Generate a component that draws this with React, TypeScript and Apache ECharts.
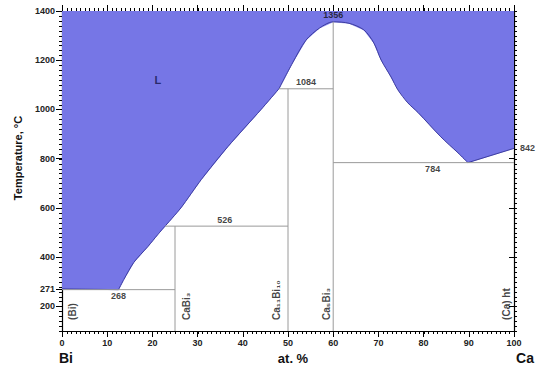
import React, { useEffect, useRef } from 'react';
import * as echarts from 'echarts';

// Axis ticks
const compositionTicks = [0, 10, 20, 30, 40, 50, 60, 70, 80, 90, 100];
const temperatureTicks = [200, 271, 400, 600, 800, 1000, 1200, 1400];
const compositionMinorStep = 1;
const temperatureMinorStep = 20;

// Liquidus branches, [at.% Ca, °C]
const liquidusBi = [[0, 271], [12.5, 268]];
const liquidusCaBi3 = [[12.5, 268], [13.7, 310], [15.9, 379], [19, 443], [21.2, 492], [22.8, 526]];
const liquidusCa11Bi10 = [[22.8, 526], [26.3, 600], [30.8, 715], [36.7, 849], [44, 999], [48, 1084]];
const liquidusCa5Bi3 = [
  [48, 1084], [51, 1189], [54, 1282], [57, 1331], [60, 1356], [63.5, 1350], [66.8, 1323],
  [69, 1270], [70.6, 1201], [72.8, 1132], [74.3, 1080], [76.5, 1027], [78.8, 987],
  [83.8, 889], [87.6, 824], [89.8, 784],
];
const liquidusCa = [[89.8, 784], [100, 842]];

// Invariant isotherms: [°C, from at.%, to at.%]
const isotherms = [[268, 0, 25], [526, 22.8, 50], [1084, 48, 60], [784, 60, 100]];
// Compound lines: [at.% Ca, top °C]
const compoundLines = [[25, 526], [50, 1084], [60, 1356]];

// Temperature annotations: [at.% Ca, °C]
const tempNotes = [[12.5, 268], [36, 526], [54, 1084], [60, 1356], [82, 784], [100, 842]];
// Phase names and their compositions
const phaseNames = ['(Bi)', 'CaBi₃', 'Ca₁₁Bi₁₀', 'Ca₅Bi₃', '(Ca) ht'];
const phaseComps = [0, 25, 50, 60, 100];
// Liquid field label
const liquidLabel = { name: 'L', x: 21.2, t: 1120 };

const T_MIN = 100;
const T_MAX = 1400;
const X_MIN = compositionTicks[0];
const X_MAX = compositionTicks[compositionTicks.length - 1];

const FILL = '#7676e6';
const EDGE = '#3c3ca0';
const THIN = '#9a9a9a';
const FONT = 'Liberation Sans, Arial, sans-serif';

function steps(from: number, to: number, step: number) {
  const out: number[] = [];
  for (let v = from; v <= to + 1e-9; v += step) out.push(v);
  return out;
}

export default function App() {
  const ref = useRef<HTMLDivElement>(null);

  useEffect(() => {
    if (!ref.current) return;
    const chart = echarts.init(ref.current, null, { renderer: 'svg' });

    const branches = [liquidusBi, liquidusCaBi3, liquidusCa11Bi10, liquidusCa5Bi3, liquidusCa];
    const branchSmooth = [false, 0.25, 0.25, 0.3, false];

    // one continuous polygon for the liquid field (no seams), edges drawn per branch on top
    const liquidField = branches.reduce<number[][]>((acc, b) => acc.concat(acc.length ? b.slice(1) : b), []);

    const thinLine = (data: number[][]) => ({
      type: 'line',
      data,
      symbol: 'none',
      lineStyle: { color: THIN, width: 1 },
      z: 3,
      silent: true,
    });

    const noteSides = ['bottom', 'top', 'top', 'top', 'bottom', 'right'];
    const phaseOffsets = [10, 11, -12, -7, -8];
    const MINOR = 3;

    const tickLine = (x1: number, y1: number, x2: number, y2: number) => ({
      type: 'line',
      shape: { x1, y1, x2, y2 },
      style: { stroke: '#000', lineWidth: 1 },
    });

    // fine tick combs along the frame, positioned through the axis scales
    const minorXSeries = {
      type: 'custom',
      clip: false,
      silent: true,
      z: 10,
      data: steps(X_MIN, X_MAX, compositionMinorStep).map((v) => [v, T_MIN]),
      renderItem: (_p: any, api: any) => {
        const v = api.value(0);
        const b = api.coord([v, T_MIN]);
        const t = api.coord([v, T_MAX]);
        const x = Math.round(b[0]) + 0.5;
        return {
          type: 'group',
          children: [tickLine(x, b[1], x, b[1] + MINOR), tickLine(x, t[1], x, t[1] - MINOR)],
        };
      },
    };
    const minorYSeries = {
      type: 'custom',
      clip: false,
      silent: true,
      z: 10,
      data: steps(T_MIN, T_MAX, temperatureMinorStep).map((v) => [X_MIN, v]),
      renderItem: (_p: any, api: any) => {
        const v = api.value(1);
        const l = api.coord([X_MIN, v]);
        const r = api.coord([X_MAX, v]);
        const y = Math.round(l[1]) + 0.5;
        return {
          type: 'group',
          children: [tickLine(l[0], y, l[0] - MINOR, y), tickLine(r[0], y, r[0] + MINOR, y)],
        };
      },
    };

    const series: any[] = [
      {
        type: 'line',
        data: liquidField,
        smooth: false,
        symbol: 'none',
        lineStyle: { width: 0.6, color: FILL },
        areaStyle: { color: FILL, opacity: 1, origin: 'end' },
        z: 1,
        silent: true,
      },
      ...branches.map((b, i) => ({
        type: 'line',
        data: b,
        smooth: branchSmooth[i],
        symbol: 'none',
        lineStyle: { color: EDGE, width: 1 },
        z: 2,
        silent: true,
      })),
      ...isotherms.map(([t, a, b]) => thinLine([[a, t], [b, t]])),
      ...compoundLines.map(([x, t]) => thinLine([[x, T_MIN], [x, t]])),
      ...tempNotes.map(([x, t], i) => ({
        type: 'scatter',
        data: [[x, t]],
        symbolSize: 0,
        z: 5,
        silent: true,
        label: {
          show: true,
          position: noteSides[i],
          distance: noteSides[i] === 'right' ? 6 : 2,
          formatter: String(t),
          fontFamily: FONT,
          fontSize: 9,
          fontWeight: 'bold',
          color: '#111',
        },
      })),
      ...phaseNames.map((name, i) => ({
        type: 'scatter',
        data: [[phaseComps[i], 145]],
        symbolSize: 0,
        z: 5,
        silent: true,
        label: {
          show: true,
          position: [phaseOffsets[i], 0],
          rotate: 90,
          align: 'left',
          verticalAlign: 'middle',
          formatter: name,
          fontFamily: FONT,
          fontSize: 10,
          fontWeight: 'bold',
          color: '#111',
        },
      })),
      {
        type: 'scatter',
        data: [[liquidLabel.x, liquidLabel.t]],
        symbolSize: 0,
        z: 5,
        silent: true,
        label: {
          show: true,
          position: 'inside',
          formatter: liquidLabel.name,
          fontFamily: FONT,
          fontSize: 11,
          fontWeight: 'bold',
          color: '#15154a',
        },
      },
      minorXSeries,
      minorYSeries,
    ];

    const axisLineStyle = { color: '#000', width: 1.2 };
    const tickStyle = { color: '#000', width: 1 };

    chart.setOption({
      animation: false,
      grid: { left: 62, right: 22, top: 11, bottom: 41 },
      xAxis: [
        {
          type: 'value',
          min: X_MIN,
          max: X_MAX,
          interval: 10,
          axisLine: { onZero: false, lineStyle: axisLineStyle },
          axisTick: { show: true, length: 6, lineStyle: tickStyle },
          splitLine: { show: false },
          axisLabel: {
            fontFamily: FONT,
            fontSize: 9,
            fontWeight: 'bold',
            color: '#222',
            margin: 7,
          },
        },
        {
          type: 'value',
          position: 'top',
          min: X_MIN,
          max: X_MAX,
          interval: 10,
          axisLine: { show: true, onZero: false, lineStyle: axisLineStyle },
          axisTick: { show: true, length: 6, lineStyle: tickStyle },
          splitLine: { show: false },
          axisLabel: { show: false },
        },
      ],
      yAxis: [
        {
          type: 'value',
          min: T_MIN,
          max: T_MAX,
          interval: 100,
          axisLine: { show: true, onZero: false, lineStyle: axisLineStyle },
          axisTick: { show: true, length: 6, customValues: temperatureTicks, lineStyle: tickStyle },
          splitLine: { show: false },
          axisLabel: {
            customValues: temperatureTicks,
            formatter: (v: number) => String(v),
            fontFamily: FONT,
            fontSize: 9,
            fontWeight: 'bold',
            color: '#222',
            margin: 7,
          },
        },
        {
          type: 'value',
          position: 'right',
          min: T_MIN,
          max: T_MAX,
          interval: 100,
          axisLine: { show: true, onZero: false, lineStyle: axisLineStyle },
          axisTick: {
            show: true,
            inside: true,
            length: 5,
            customValues: temperatureTicks.filter((v) => v % 200 === 0),
            lineStyle: tickStyle,
          },
          splitLine: { show: false },
          axisLabel: { show: false },
        },
      ],
      graphic: [
        {
          type: 'text',
          x: 18,
          y: 158,
          rotation: Math.PI / 2,
          style: {
            text: 'Temperature, °C',
            font: `bold 11px ${FONT}`,
            fill: '#111',
            align: 'center',
            verticalAlign: 'middle',
            textAlign: 'center',
            textVerticalAlign: 'middle',
          },
        },
        {
          type: 'text',
          x: 293,
          y: 358,
          style: {
            text: 'at. %',
            font: `bold 13px ${FONT}`,
            fill: '#111',
            align: 'center',
            verticalAlign: 'middle',
            textAlign: 'center',
            textVerticalAlign: 'middle',
          },
        },
        {
          type: 'text',
          x: 66,
          y: 358,
          style: {
            text: 'Bi',
            font: `bold 14px ${FONT}`,
            fill: '#111',
            align: 'center',
            verticalAlign: 'middle',
            textAlign: 'center',
            textVerticalAlign: 'middle',
          },
        },
        {
          type: 'text',
          x: 525,
          y: 358,
          style: {
            text: 'Ca',
            font: `bold 14px ${FONT}`,
            fill: '#111',
            align: 'center',
            verticalAlign: 'middle',
            textAlign: 'center',
            textVerticalAlign: 'middle',
          },
        },
      ],
      series,
    });

    return () => chart.dispose();
  }, []);

  return (
    <div
      ref={ref}
      style={{ position: 'fixed', left: 0, top: 0, width: 536, height: 372, background: '#fff' }}
    />
  );
}
